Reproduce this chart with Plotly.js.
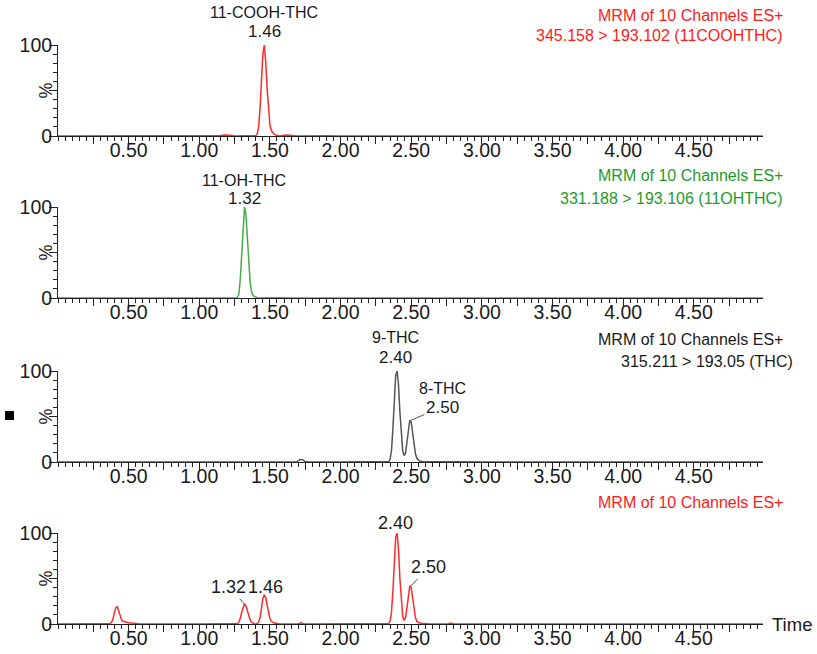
<!DOCTYPE html>
<html><head><meta charset="utf-8">
<script src="https://cdn.plot.ly/plotly-3.0.1.min.js"></script>
<style>html,body{margin:0;padding:0;background:#fff}</style>
</head><body><div id="chart" style="width:817px;height:654px"></div>
<script>
// ---- data ----
// Panel 1: 345.158 > 193.102 (11COOHTHC)
const t1 = [0.00,0.20,0.40,0.44,0.47,0.50,0.54,0.57,0.59,0.62,0.80,1.00,1.10,1.15,1.18,1.20,1.22,1.25,1.36,1.39,1.40,1.41,1.42,1.43,1.44,1.45,1.46,1.47,1.48,1.49,1.50,1.51,1.52,1.53,1.54,1.55,1.56,1.57,1.61,1.63,1.66,1.70,1.90,2.00,3.00,4.00,4.99];
const i1 = [0,0,0,0.4,0,0.3,0,0.6,0.2,0,0,0,0,0.5,1.2,1.4,0.8,0,0,0,0.5,2,10,30,62,90,100,82,52,26,12,6,3.5,2,1.2,0.6,0.2,0,1,0.8,0,0,0.3,0,0,0,0];
// Panel 2: 331.188 > 193.106 (11OHTHC)
const t2 = [0.00,0.40,0.45,0.48,0.50,0.53,0.60,1.00,1.25,1.26,1.27,1.28,1.29,1.30,1.31,1.32,1.33,1.34,1.35,1.36,1.37,1.38,1.39,1.40,1.41,1.42,1.48,1.52,1.56,1.60,1.64,1.70,1.88,1.92,2.00,3.00,4.00,4.99];
const i2 = [0,0,0.4,0.2,0.5,0,0,0,0,0,1,4,20,52,85,100,92,68,38,17,7,3,1.5,0.7,0.2,0,0.3,0.5,0.2,0.4,0,0,0.3,0,0,0,0,0];
// Panel 3: 315.211 > 193.05 (THC)
const t3 = [0.00,0.40,0.45,0.50,0.55,0.60,1.00,1.60,1.69,1.71,1.73,1.75,1.77,2.00,2.33,2.34,2.35,2.36,2.37,2.38,2.39,2.40,2.41,2.42,2.43,2.44,2.45,2.46,2.47,2.48,2.49,2.50,2.51,2.52,2.53,2.54,2.55,2.56,2.58,2.60,2.80,2.90,3.00,4.00,4.99];
const i3 = [0,0,0.4,0.5,0.3,0,0,0,0,2.5,2.5,0.5,0,0,0,0.5,3,12,35,70,95,100,85,55,28,12,7,10,22,38,46,44,32,18,9,4,2,1,0.5,0.3,0.3,0,0,0,0];
// Panel 4: MRM of 10 Channels ES+ (sum)
const t4 = [0.00,0.30,0.36,0.37,0.38,0.39,0.40,0.41,0.42,0.43,0.44,0.45,0.46,0.47,0.48,0.50,0.52,0.54,0.56,0.58,1.00,1.26,1.27,1.28,1.29,1.30,1.31,1.32,1.33,1.34,1.35,1.36,1.37,1.38,1.39,1.40,1.41,1.42,1.43,1.44,1.45,1.46,1.47,1.48,1.49,1.50,1.51,1.52,1.53,1.55,1.57,1.70,1.72,1.74,2.00,2.33,2.34,2.35,2.36,2.37,2.38,2.39,2.40,2.41,2.42,2.43,2.44,2.45,2.46,2.47,2.48,2.49,2.50,2.51,2.52,2.53,2.54,2.55,2.57,2.60,2.63,2.76,2.78,2.80,3.00,4.00,4.99];
const i4 = [0,0,0,0.5,2,6,13,18,19,14,8,4.5,3,2.5,2,1.5,1.2,1,0.5,0,0,0,0.5,2,6,13,19,22,20,15,9,4.5,2,1,0.3,0,0.5,2,7,17,28,32,29,21,12,6,3,1.5,1,0.5,0,0,1.2,0,0,0,0.5,3,12,35,70,95,100,82,50,22,8,4,7,18,34,42,40,28,15,7,3,1.5,0.8,0.3,0,0,1,0,0,0,0];

const xTickVals = [0.25,0.50,0.75,1.00,1.25,1.50,1.75,2.00,2.25,2.50,2.75,3.00,3.25,3.50,3.75,4.00,4.25,4.50,4.75];
const xTickText = ['','0.50','','1.00','','1.50','','2.00','','2.50','','3.00','','3.50','','4.00','','4.50',''];
const yTickVals = [0,50,100];
const yTickText = ['0','','100'];

// ---- geometry helpers (pixels -> paper) ----
const L = 58, R = 763, T = 45, B = 624;
const W = R - L, H = B - T;
const px = v => (v - L) / W;
const py = v => (B - v) / H;
const FONT = 'Arial, "Liberation Sans", sans-serif';
const RED = '#ff2a2a', GREEN = '#45ad45', GRAY = '#555555';
const RED_T = '#ff1a1a', GREEN_T = '#1f9a2a', DARK = '#1a1a1a';

const traces = [
  {x:t1, y:i1, xaxis:'x', yaxis:'y', line:{color:RED,width:1.5}},
  {x:t2, y:i2, xaxis:'x2', yaxis:'y2', line:{color:GREEN,width:1.5}},
  {x:t3, y:i3, xaxis:'x3', yaxis:'y3', line:{color:GRAY,width:1.5}},
  {x:t4, y:i4, xaxis:'x4', yaxis:'y4', line:{color:RED,width:1.5}}
].map(t => Object.assign({type:'scatter', mode:'lines', hoverinfo:'skip', showlegend:false}, t));

const domains = [[py(136),py(45)],[py(298),py(207)],[py(462),py(371)],[py(624),py(533)]];
const layout = {
  width:817, height:654, margin:{l:L, r:817-R, t:T, b:654-B},
  paper_bgcolor:'#fff', plot_bgcolor:'rgba(0,0,0,0)', showlegend:false,
  font:{family:FONT, color:DARK}
};
domains.forEach((d,k) => {
  const s = k === 0 ? '' : String(k+1);
  layout['xaxis'+s] = {
    domain:[0,1], range:[0,4.99], anchor:'y'+s, showline:true, linecolor:'#222', linewidth:1,
    ticks:'outside', tickmode:'array', tickvals:xTickVals, ticktext:xTickText, ticklen:7, tickcolor:'#222',
    ticklabelstandoff:-10,
    tickfont:{size:19.5, color:DARK, family:FONT},
    minor:{tickmode:'linear', tick0:0, dtick:0.05, ticklen:4, ticks:'outside', tickcolor:'#222'},
    showgrid:false, zeroline:false, fixedrange:true
  };
  layout['yaxis'+s] = {
    domain:[Math.max(0,d[0]), Math.min(1,d[1])], range:[0,100], anchor:'x'+s, showline:true, linecolor:'#222', linewidth:1,
    ticks:'outside', tickmode:'array', tickvals:yTickVals, ticktext:yTickText, ticklen:8, tickcolor:'#222',
    ticklabelstandoff:-7,
    tickfont:{size:19.5, color:DARK, family:FONT},
    minor:{tickmode:'linear', tick0:0, dtick:10, ticklen:4, ticks:'outside', tickcolor:'#222'},
    showgrid:false, zeroline:false, fixedrange:true
  };
});

const ann = [];
const pa = (text, x, y, o) => ann.push(Object.assign({text, x, y, xref:'paper', yref:'paper', showarrow:false,
  font:{size:16, family:FONT, color:DARK}, xanchor:'center', yanchor:'middle'}, o||{}));
const da = (text, x, y, ax, ay, size, o) => ann.push(Object.assign({text, x, y, xref:ax, yref:ay, showarrow:false,
  font:{size:size, family:FONT, color:DARK}, xanchor:'center', yanchor:'middle'}, o||{}));
const ARR = {showarrow:true, arrowhead:0, arrowwidth:1, arrowcolor:'#555', standoff:0};

// % signs
[90.5, 252.5, 416.5, 578.5].forEach(y => pa('%', px(45), py(y), {textangle:-90, font:{size:18,family:FONT,color:DARK}}));

// panel titles on the right
pa('MRM of 10 Channels ES+', px(596), py(15), {xanchor:'left', font:{size:16,family:FONT,color:RED_T}});
pa('345.158 > 193.102 (11COOHTHC)', px(785), py(35), {xanchor:'right', font:{size:16,family:FONT,color:RED_T}});
pa('MRM of 10 Channels ES+', px(596), py(175.5), {xanchor:'left', font:{size:16,family:FONT,color:GREEN_T}});
pa('331.188 > 193.106 (11OHTHC)', px(785), py(198.5), {xanchor:'right', font:{size:16,family:FONT,color:GREEN_T}});
pa('MRM of 10 Channels ES+', px(596), py(339), {xanchor:'left', font:{size:16,family:FONT,color:DARK}});
pa('315.211 > 193.05 (THC)', px(795), py(361), {xanchor:'right', font:{size:16,family:FONT,color:DARK}});
pa('MRM of 10 Channels ES+', px(596), py(502), {xanchor:'left', font:{size:16,family:FONT,color:RED_T}});
pa('Time', px(770), py(624), {xanchor:'left', font:{size:18.5,family:FONT,color:DARK}});

// peak labels
da('11-COOH-THC', 1.46, 100, 'x', 'y', 16, {yshift:33});
da('1.46', 1.46, 100, 'x', 'y', 17, {yshift:14});
da('11-OH-THC', 1.32, 100, 'x2', 'y2', 16, {yshift:26.5});
da('1.32', 1.32, 100, 'x2', 'y2', 17, {yshift:8.5});
da('9-THC', 2.40, 100, 'x3', 'y3', 16, {yshift:33.5, xshift:-2});
da('2.40', 2.40, 100, 'x3', 'y3', 17, {yshift:13.5, xshift:-2});
da('8-THC', 2.50, 46, 'x3', 'y3', 16, {yshift:32, xshift:31});
da('2.50', 2.50, 46, 'x3', 'y3', 17, Object.assign({ax:31, ay:-13}, ARR));
da('2.40', 2.40, 100, 'x4', 'y4', 18, {yshift:10, xshift:-2});
da('2.50', 2.50, 42, 'x4', 'y4', 18, Object.assign({ax:17, ay:-18.5}, ARR));
da('1.32', 1.32, 22, 'x4', 'y4', 18, Object.assign({ax:-15.5, ay:-16.7}, ARR));
da('1.46', 1.46, 32, 'x4', 'y4', 18, {yshift:8, xshift:1.5});
layout.annotations = ann;

layout.shapes = [{type:'rect', xref:'paper', yref:'paper', x0:px(5), x1:px(14), y0:py(420), y1:py(411),
  fillcolor:'#000', line:{width:0}}];

Plotly.newPlot('chart', traces, layout, {staticPlot:true, displayModeBar:false});
</script></body></html>
